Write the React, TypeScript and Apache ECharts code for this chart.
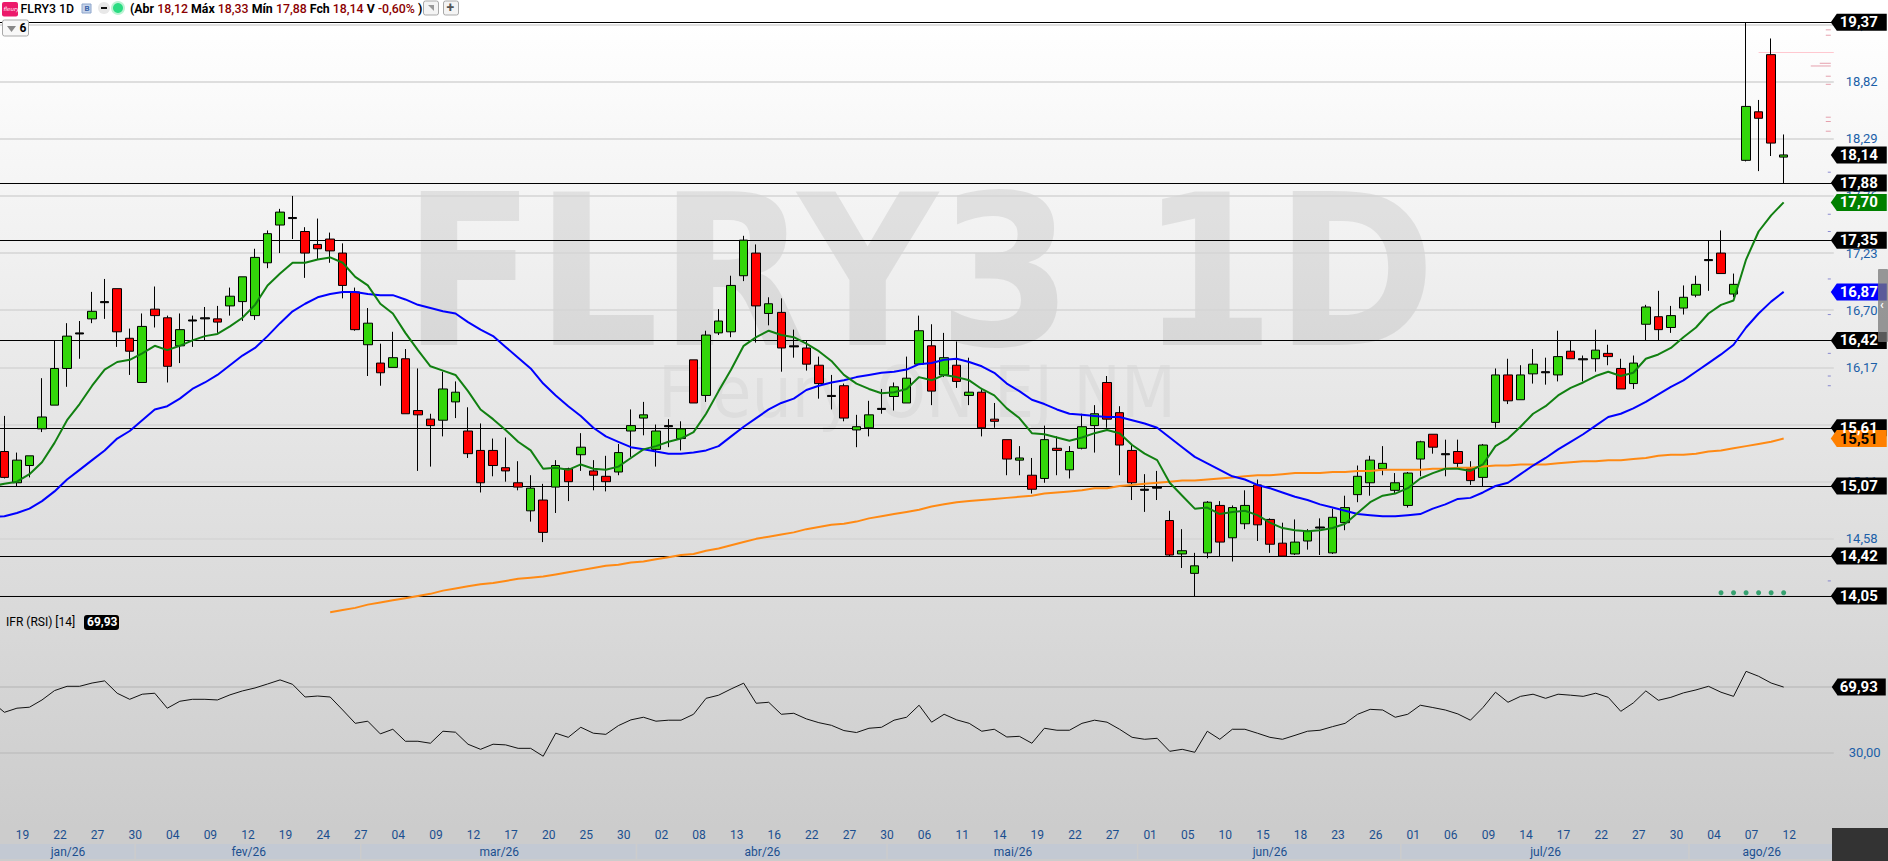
import React, { useEffect, useRef } from "react";
import * as echarts from "echarts";

const tickLabels = ["19","22","27","30","04","09","12","19","24","27","04","09","12","17","20","25","30","02","08","13","16","22","27","30","06","11","14","19","22","27","01","05","10","15","18","23","26","01","06","09","14","17","22","27","30","04","07","12"];
const monthNames = ["jan/26","fev/26","mar/26","abr/26","mai/26","jun/26","jul/26","ago/26"];
const monthBounds = [-1,10.5,28.5,50.5,70.5,90.5,111.5,134.5,146];
const priceTicks = [19.35,18.82,18.29,17.76,17.23,16.70,16.17,15.64,15.11,14.58,14.05];
const levels = [19.37,17.88,17.35,16.42,15.61,15.07,14.42,14.05];

const opens = [15.39,15.10,15.26,15.60,15.82,16.16,16.48,16.62,16.77,16.90,16.44,16.03,16.71,16.63,16.37,16.60,16.62,16.62,16.74,16.78,16.65,17.14,17.49,17.55,17.43,17.31,17.36,17.23,16.87,16.38,
16.21,16.17,16.25,15.77,15.69,15.68,15.85,15.58,15.40,15.40,15.24,15.10,14.84,14.94,15.06,15.23,15.36,15.21,15.16,15.20,
15.58,15.70,15.41,15.62,15.51,16.24,15.91,16.49,16.50,17.02,17.23,16.67,16.68,16.36,16.35,16.19,15.90,16.00,15.59,15.61,15.78,15.90,15.84,16.20,16.37,16.10,16.19,15.91,15.94,15.69,
15.50,15.31,15.17,15.14,15.42,15.22,15.42,15.63,16.03,15.75,15.40,15.03,15.05,14.75,14.44,14.26,14.45,14.89,14.59,14.72,15.08,
14.76,14.54,14.44,14.56,14.68,14.45,14.73,14.99,15.10,15.23,15.03,14.89,15.32,15.55,15.36,15.39,15.23,15.15,15.66,16.10,15.87,16.11,16.13,16.10,16.32,16.24,16.25,16.30,16.16,16.02,16.57,16.64,16.54,
16.72,16.84,17.16,17.23,16.85,18.09,18.54,19.07,18.12];
const closes = [15.15,15.31,15.35,15.71,16.16,16.46,16.49,16.69,16.78,16.50,16.32,16.55,16.65,16.18,16.52,16.61,16.63,16.59,16.83,17.01,17.19,17.41,17.61,17.56,17.23,17.27,17.25,16.93,16.52,16.58,
16.12,16.26,15.74,15.73,15.63,15.97,15.94,15.37,15.10,15.26,15.21,15.06,15.05,14.64,15.26,15.11,15.43,15.17,15.11,15.38,
15.63,15.73,15.58,15.63,15.60,15.84,16.47,16.60,16.93,17.35,16.74,16.76,16.35,16.37,16.20,16.02,15.91,15.70,15.62,15.73,15.79,15.99,16.07,16.51,15.95,16.26,16.04,15.94,15.61,15.67,
15.32,15.33,15.04,15.50,15.40,15.39,15.62,15.74,15.69,15.45,15.10,15.04,15.06,14.43,14.47,14.33,14.92,14.55,14.87,14.89,14.71,
14.53,14.42,14.55,14.65,14.69,14.78,14.87,15.16,15.31,15.28,15.10,15.19,15.48,15.43,15.37,15.28,15.12,15.45,16.10,15.86,16.10,16.20,16.12,16.27,16.25,16.25,16.33,16.27,15.97,16.21,16.73,16.52,16.65,
16.82,16.94,17.17,17.04,16.94,18.59,18.48,18.25,18.14];
const lows = [15.14,15.07,15.15,15.57,15.82,15.99,16.25,16.58,16.62,16.36,16.10,16.03,16.54,16.03,16.21,16.36,16.42,16.49,16.65,16.60,16.61,17.09,17.23,17.36,17.00,17.17,17.14,16.81,16.51,16.09,
16.00,16.17,15.74,15.21,15.25,15.53,15.70,15.33,15.01,15.16,15.11,15.03,14.74,14.55,14.82,14.93,15.21,15.03,15.02,15.17,
15.34,15.54,15.25,15.43,15.40,15.84,15.85,16.47,16.45,16.97,16.40,16.56,16.13,16.26,16.14,15.88,15.78,15.67,15.43,15.53,15.74,15.77,15.84,16.20,15.82,16.08,15.98,15.82,15.53,15.61,
15.17,15.17,15.00,15.10,15.17,15.14,15.41,15.38,15.61,15.17,14.94,14.83,14.94,14.42,14.31,14.05,14.40,14.42,14.37,14.67,14.56,
14.45,14.42,14.43,14.48,14.43,14.44,14.66,14.92,14.98,15.17,15.00,14.87,15.16,15.37,15.16,15.24,15.08,15.07,15.61,15.83,15.87,16.02,16.01,16.04,16.25,16.04,16.13,16.19,15.97,15.97,16.42,16.42,16.49,
16.66,16.82,16.88,17.04,16.82,18.08,17.99,18.13,17.88];
const highs = [15.72,15.38,15.35,16.07,16.42,16.58,16.60,16.87,16.99,16.90,16.53,16.67,16.92,16.65,16.67,16.65,16.73,16.74,16.91,17.01,17.27,17.44,17.64,17.76,17.47,17.55,17.42,17.32,16.91,16.72,
16.39,16.50,16.34,16.16,15.74,16.13,16.04,15.80,15.65,15.51,15.52,15.30,15.17,15.09,15.31,15.24,15.56,15.31,15.35,15.46,
15.78,15.85,15.64,15.69,15.67,16.24,16.51,16.71,17.02,17.39,17.31,16.82,16.81,16.52,16.42,16.27,16.10,16.02,15.73,15.86,15.97,16.03,16.27,16.65,16.57,16.49,16.41,16.26,15.98,15.84,
15.50,15.44,15.33,15.63,15.53,15.44,15.74,15.82,16.09,15.81,15.45,15.18,15.21,14.84,14.67,14.45,14.93,14.93,14.89,15.03,15.13,
14.77,14.73,14.76,14.67,14.77,14.86,14.98,15.26,15.35,15.44,15.19,15.20,15.49,15.55,15.50,15.50,15.30,15.46,16.16,16.25,16.19,16.34,16.26,16.51,16.42,16.28,16.52,16.38,16.25,16.28,16.75,16.88,16.74,
16.93,17.02,17.35,17.44,17.04,19.37,18.65,19.22,18.33];

const ma9 = [15.07,15.09,15.11,15.18,15.29,15.47,15.68,15.83,16.00,16.15,16.22,16.24,16.30,16.37,16.33,16.37,16.42,16.46,16.48,16.55,16.63,16.75,16.93,17.04,17.14,17.14,17.17,17.19,17.14,17.01,16.93,16.76,16.67,16.49,16.33,16.18,16.14,16.10,15.95,15.78,15.69,15.59,15.48,15.40,15.23,15.24,15.22,15.27,15.23,15.22,15.25,
15.33,15.41,15.44,15.48,15.51,15.57,15.74,15.95,16.15,16.37,16.45,16.51,16.47,16.45,16.39,16.32,16.23,16.10,16.02,15.97,15.93,15.94,15.97,16.08,16.05,16.10,16.08,16.05,15.97,15.91,15.79,15.70,15.56,15.55,15.52,15.49,15.52,15.56,15.59,15.56,15.45,15.37,15.31,15.10,14.98,14.86,14.87,14.81,14.83,14.84,14.80,
14.73,14.68,14.66,14.65,14.66,14.68,14.72,14.82,14.92,14.98,15.00,15.05,15.14,15.19,15.23,15.23,15.21,15.27,15.44,15.51,15.62,15.74,15.81,15.91,15.98,16.03,16.09,16.13,16.09,16.12,16.25,16.29,16.35,16.45,16.54,16.67,16.75,16.79,17.17,17.43,17.58,17.70];
const ma21 = [14.78,14.79,14.82,14.86,14.93,15.02,15.13,15.22,15.31,15.40,15.51,15.58,15.68,15.78,15.81,15.88,15.97,16.03,16.10,16.19,16.28,16.35,16.46,16.58,16.69,16.76,16.82,16.85,16.87,16.87,16.85,16.84,16.84,16.80,16.75,16.72,16.69,16.67,16.59,16.52,16.46,16.36,16.26,16.16,16.02,15.91,15.81,15.72,15.61,15.53,15.48,15.43,
15.41,15.39,15.37,15.37,15.38,15.40,15.44,15.53,15.62,15.70,15.78,15.84,15.88,15.96,16.00,16.03,16.05,16.08,16.10,16.12,16.13,16.15,16.20,16.21,16.24,16.25,16.22,16.18,16.12,16.02,15.95,15.87,15.83,15.78,15.74,15.73,15.72,15.71,15.71,15.68,15.65,15.61,15.52,15.43,15.34,15.28,15.22,15.16,15.13,15.08,
15.05,15.01,14.97,14.94,14.90,14.87,14.84,14.81,14.80,14.79,14.79,14.80,14.81,14.86,14.90,14.95,14.96,15.01,15.07,15.10,15.18,15.26,15.33,15.41,15.48,15.55,15.63,15.71,15.74,15.79,15.85,15.92,15.99,16.05,16.13,16.21,16.29,16.38,16.54,16.67,16.78,16.87];
const ma200 = [13.90,13.92,13.94,13.97,13.99,14.01,14.03,14.05,14.07,14.10,14.12,14.14,14.16,14.17,14.19,14.21,14.22,14.23,14.25,14.27,14.29,14.31,14.33,14.34,14.36,14.37,14.39,14.41,14.43,14.44,14.47,14.49,14.52,14.55,14.58,14.60,14.62,14.64,14.67,14.69,14.71,14.72,14.74,14.77,14.79,14.81,14.83,14.85,14.88,14.90,14.92,14.93,14.94,14.95,14.96,14.97,14.98,15.00,15.01,15.02,15.03,15.05,15.05,15.07,15.08,15.09,15.10,15.11,15.12,15.12,15.13,15.14,15.15,15.16,15.17,
15.17,15.18,15.19,15.19,15.19,15.20,15.20,15.21,15.21,15.22,15.22,15.22,15.22,15.23,15.23,15.24,15.24,15.25,15.26,15.26,15.27,15.27,15.27,15.28,15.29,15.30,15.30,15.31,15.31,15.32,15.33,15.35,15.36,15.36,15.37,15.39,15.40,15.42,15.44,15.46,15.48,15.51];
const rsi = [61,54.6,57.1,57.7,62.1,67.8,70.4,70.4,72.4,73.7,66.2,62.5,65.6,66.2,57.1,61.3,62.5,62.5,62.1,65.2,67.6,69.4,71.8,74.3,71.6,63.9,64.5,63.9,56.0,47.9,49.2,41.5,44.3,37.0,37.0,35.8,43.1,42.5,35.2,32.1,35.2,34.8,32.7,32.7,27.9,41.9,39.4,45.5,41.9,41.2,46.5,50.0,51.6,49.2,49.8,49.8,53.4,63.1,65.0,68.8,72.3,60.1,60.7,53.4,54.0,50.6,48.3,46.7,43.5,42.3,44.9,45.5,49.8,51.6,58.9,48.6,53.4,
50.0,47.9,43.1,44.3,39.6,40.0,35.8,44.9,43.7,43.7,47.9,49.8,48.6,44.3,39.4,38.2,38.8,30.9,32.1,30.3,43.1,38.2,44.3,44.3,41.9,39.4,38.2,40.6,43.1,43.7,45.9,47.9,53.4,56.4,56.0,51.6,53.4,58.9,57.5,56.0,53.6,49.8,57.5,66.8,60.7,64.3,65.6,63.1,65.6,65.0,64.3,66.2,63.7,55.2,60.3,67.6,61.9,63.7,66.4,68.2,70.4,66.8,64.3,79.5,76.5,72.4,69.93];
const dotBars = [137,138,139,140,141,142];
const dotValue = 14.08;
const pinkTicks = [19.30,19.25,18.87,18.795,18.49,18.45,18.36];
const pinkLongTicks = [18.99];
const pinkWideTicks = [18.965];
const blueTicks = [17.98,17.59,17.43,16.99,16.66,16.30,16.09,16.00,14.19];
const pinkLevel = 19.09;
const priceTags = [
  { v: 19.37, c: "#000", t: "#fff" }, { v: 18.14, c: "#000", t: "#fff" }, { v: 17.88, c: "#000", t: "#fff" },
  { v: 17.70, c: "#008000", t: "#fff" }, { v: 17.35, c: "#000", t: "#fff" }, { v: 16.87, c: "#0000ff", t: "#fff" },
  { v: 16.42, c: "#000", t: "#fff" }, { v: 15.61, c: "#000", t: "#fff" }, { v: 15.51, c: "#ff8000", t: "#000" },
  { v: 15.07, c: "#000", t: "#fff" }, { v: 14.42, c: "#000", t: "#fff" }, { v: 14.05, c: "#000", t: "#fff" },
];

const fmt = (v: number) => v.toFixed(2).replace(".", ",");
const FONT = "Roboto, 'Noto Sans', sans-serif";
const TAG = "path://M6 0L56 0L56 17L6 17L0 8.5Z";
const W = 1888, H = 861;
const STEP = 12.53, LEFT = -8.13, SLOTS = 148, LAST = SLOTS - 1;
const px = (y: number) => 19.37 - (y - 22.3) / 107.84;

export default function App() {
  const ref = useRef<HTMLDivElement>(null);
  useEffect(() => {
    const chart = echarts.init(ref.current!, undefined, { renderer: "svg", width: W, height: H });
    const slots: string[] = new Array(SLOTS).fill("");
    tickLabels.forEach((t, k) => { slots[2 + 3 * k] = t; });
    const candles: any[] = [["-", "-", "-", "-"]];
    opens.forEach((o, i) => {
      const value = [o, closes[i], lows[i], highs[i]];
      const doji = Math.abs(o - closes[i]) < 0.015;
      candles.push(doji ? { value, itemStyle: { color: "#000", color0: "#000", borderColor: "#000", borderColor0: "#000" } } : value);
    });
    const pad = (a: number[], n: number) => new Array(n).fill(null).concat(a);
    const tick = (vals: number[], w: number, color: string) => ({
      type: "scatter", xAxisIndex: 0, yAxisIndex: 0, silent: true, symbol: "rect", z: 1,
      symbolSize: [w, 1], symbolOffset: [-(w / 2) - 3, 0], itemStyle: { color }, data: vals.map((v) => [LAST, v]),
    });
    chart.setOption({
      animation: false,
      backgroundColor: new echarts.graphic.LinearGradient(0, 0, 0, 1, [
        { offset: 0, color: "#ffffff" }, { offset: 0.026, color: "#ffffff" }, { offset: 0.96, color: "#cccccc" }, { offset: 1, color: "#cccccc" },
      ]),
      textStyle: { fontFamily: FONT },
      grid: [
        { left: LEFT, top: 0, width: STEP * LAST, height: 615, outerBoundsMode: "none" },
        { left: LEFT, top: 620, width: STEP * LAST, height: 206, outerBoundsMode: "none" },
        { left: LEFT, top: 844, width: STEP * LAST, height: 15, outerBoundsMode: "none" },
      ],
      xAxis: [
        { type: "category", gridIndex: 0, data: slots, boundaryGap: false, show: false },
        { type: "category", gridIndex: 1, data: slots, boundaryGap: false, axisLine: { show: false }, axisTick: { show: false }, splitLine: { show: false },
          axisLabel: { interval: (_: number, v: string) => v !== "", color: "#1b4f8f", fontSize: 12, margin: 3, padding: [0, 0, 0, 11], fontFamily: FONT } },
        { type: "value", gridIndex: 2, min: -1, max: 146, show: false },
      ],
      yAxis: [
        { type: "value", gridIndex: 0, position: "right", min: px(615), max: px(0), axisLine: { show: false },
          axisTick: { show: false, customValues: priceTicks },
          axisLabel: { customValues: priceTicks, formatter: fmt, color: "#1b5fa8", fontSize: 13, margin: 12, fontFamily: FONT },
          splitLine: { show: true, lineStyle: { color: "#d4d4d4", width: 1.5 } } },
        { type: "value", gridIndex: 1, position: "right", min: -14.5, max: 110.7, axisLine: { show: false },
          axisTick: { show: false, customValues: [30, 70] },
          axisLabel: { customValues: [30], formatter: fmt, color: "#1b5fa8", fontSize: 13, margin: 15, fontFamily: FONT },
          splitLine: { show: true, lineStyle: { color: "#c4c4c4", width: 2 } } },
        { type: "value", gridIndex: 2, min: 0, max: 1, show: false },
      ],
      series: [
        tick(pinkTicks, 5, "#e08a9a"), tick(pinkLongTicks, 11, "#e08a9a"), tick(pinkWideTicks, 20, "#e08a9a"), tick(blueTicks, 3, "#6f6fc8"),
        {
          type: "candlestick", xAxisIndex: 0, yAxisIndex: 0, barWidth: 9, data: candles, silent: true, z: 3,
          itemStyle: { color: "#33d60a", color0: "#ff0000", borderColor: "#000", borderColor0: "#000", borderWidth: 1 },
          markLine: { silent: true, symbol: "none", animation: false, label: { show: false }, z: 2,
            lineStyle: { color: "#000", type: "solid", width: 1.2 },
            data: [
              ...levels.map((v) => ({ yAxis: v })),
              [{ coord: [141, pinkLevel], lineStyle: { color: "#ffc8d0", width: 1.2, type: "solid" } }, { coord: [LAST, pinkLevel] }],
            ] },
        },
        { type: "line", xAxisIndex: 0, yAxisIndex: 0, data: pad(ma200, 27), showSymbol: false, symbol: "none", silent: true, z: 5, lineStyle: { color: "#ff8a14", width: 2 } },
        { type: "line", xAxisIndex: 0, yAxisIndex: 0, data: ma21, showSymbol: false, symbol: "none", silent: true, z: 5, lineStyle: { color: "#0000ff", width: 2 } },
        { type: "line", xAxisIndex: 0, yAxisIndex: 0, data: ma9, showSymbol: false, symbol: "none", silent: true, z: 5, lineStyle: { color: "#118011", width: 2 } },
        { type: "scatter", xAxisIndex: 0, yAxisIndex: 0, symbol: "circle", symbolSize: 5, silent: true, z: 5, itemStyle: { color: "#0d9455" }, data: dotBars.map((i) => [i + 1, dotValue]) },
        {
          type: "line", xAxisIndex: 0, yAxisIndex: 0, data: [], silent: true, z: 8,
          markPoint: { silent: true, animation: false, symbol: TAG, symbolSize: [56, 17], symbolOffset: [25, 0],
            data: priceTags.map((p) => ({ coord: [LAST, p.v], itemStyle: { color: p.c }, value: p.v,
              label: { show: true, position: "inside", formatter: fmt(p.v), color: p.t, fontWeight: 700, fontSize: 15, fontFamily: FONT } })) },
        },
        {
          type: "line", xAxisIndex: 1, yAxisIndex: 1, data: rsi, showSymbol: false, symbol: "none", silent: true, z: 5, lineStyle: { color: "#111", width: 1 },
          markPoint: { silent: true, animation: false, symbol: TAG, symbolSize: [54, 17], symbolOffset: [25, 0],
            data: [{ coord: [LAST, 69.93], itemStyle: { color: "#000" }, label: { show: true, position: "inside", formatter: fmt(69.93), color: "#fff", fontWeight: 700, fontSize: 15, fontFamily: FONT } }] },
        },
        {
          type: "custom", xAxisIndex: 2, yAxisIndex: 2, silent: true, clip: false,
          encode: { x: [0, 1] },
          data: monthNames.map((_, i) => [monthBounds[i], monthBounds[i + 1]]),
          renderItem: (params: any, api: any) => {
            const a = api.coord([api.value(0), 1]);
            const b = api.coord([api.value(1), 0]);
            const x0 = Math.max(a[0], 0);
            return {
              type: "group",
              children: [
                { type: "rect", shape: { x: x0, y: a[1], width: b[0] - x0 - 1.5, height: b[1] - a[1] }, style: { fill: "#c3c9d3" } },
                { type: "text", style: { x: (x0 + b[0]) / 2, y: (a[1] + b[1]) / 2, text: monthNames[params.dataIndex], fill: "#1b4f8f", align: "center", verticalAlign: "middle", font: `12px ${FONT}` } },
              ],
            };
          },
        },
      ],
      graphic: [
        { type: "text", z: -1, x: 403, y: 272, scaleX: 0.923, style: { text: "FLRY3 1D", fill: "rgba(0,0,0,0.08)", font: "bold 210px 'DejaVu Sans'", verticalAlign: "middle" } },
        { type: "text", z: -1, x: 658, y: 392, scaleX: 0.897, style: { text: "Fleury ON EJ NM", fill: "rgba(0,0,0,0.04)", font: "71px 'DejaVu Sans'", verticalAlign: "middle" } },
        { type: "rect", z: 20, shape: { x: 1832, y: 828, width: 56, height: 33 }, style: { fill: "#333333" } },
        { type: "rect", z: 20, shape: { x: 1878, y: 269, width: 10, height: 73, r: 1 }, style: { fill: "rgba(120,120,120,0.75)" } },
        { type: "text", z: 21, x: 1880, y: 299, style: { text: "‹", fill: "#fff", font: "bold 12px Roboto" } },
        // header
        { type: "rect", z: 20, shape: { x: 2, y: 2, width: 16, height: 14.5, r: 2 }, style: { fill: "#ec1a6b" } },
        { type: "text", z: 21, x: 3.5, y: 6, style: { text: "fleury", fill: "#fff", font: "italic 5.5px 'DejaVu Sans'" } },
        { type: "text", z: 21, x: 20.5, y: 1.5, scaleX: 0.95, style: { text: "FLRY3 1D", fill: "#000", font: `500 13px ${FONT}` } },
        { type: "rect", z: 20, shape: { x: 82, y: 4, width: 9, height: 9 }, style: { fill: "#c6d4ea", stroke: "#8ea6cc" } },
        { type: "text", z: 21, x: 84.5, y: 4.5, style: { text: "B", fill: "#3a63a8", font: "bold 8px Roboto" } },
        { type: "circle", z: 20, shape: { cx: 104, cy: 8, r: 6 }, style: { fill: "#e8e8e8" } },
        { type: "rect", z: 21, shape: { x: 101, y: 7, width: 6, height: 2 }, style: { fill: "#111" } },
        { type: "circle", z: 20, shape: { cx: 118, cy: 8, r: 7 }, style: { fill: "#bdf3d4" } },
        { type: "circle", z: 21, shape: { cx: 118, cy: 8, r: 5 }, style: { fill: "#2bdc82" } },
        { type: "text", z: 21, x: 130, y: 1.5, scaleX: 0.95, style: {
            text: "{b|(Abr} {r|18,12} {b|Máx} {r|18,33} {b|Mín} {r|17,88} {b|Fch} {r|18,14} {b|V} {r|-0,60%} {b|)}",
            font: `13px ${FONT}`,
            rich: { b: { fill: "#000", font: `bold 13px ${FONT}` }, r: { fill: "#8b0000", font: `500 13px ${FONT}` } },
          } },
        { type: "rect", z: 20, shape: { x: 423.5, y: 1, width: 15, height: 14, r: 2 }, style: { fill: "#f4f4f4", stroke: "#a9a9a9" } },
        { type: "polygon", z: 21, shape: { points: [[428, 5], [434, 5], [434, 11]] }, style: { fill: "#999" } },
        { type: "rect", z: 20, shape: { x: 443.5, y: 1, width: 15, height: 14, r: 2 }, style: { fill: "#f4f4f4", stroke: "#a9a9a9" } },
        { type: "text", z: 21, x: 446.5, y: 0, style: { text: "+", fill: "#555", font: "bold 14px Roboto" } },
        { type: "rect", z: 20, shape: { x: 2.5, y: 20, width: 26, height: 16, r: 2 }, style: { fill: "#f8f8f8", stroke: "#a9a9a9" } },
        { type: "polygon", z: 21, shape: { points: [[7, 26], [16, 26], [11.5, 32]] }, style: { fill: "#888" } },
        { type: "text", z: 21, x: 19.5, y: 21.5, style: { text: "6", fill: "#000", font: `bold 12px ${FONT}` } },
        // RSI caption
        { type: "text", z: 21, x: 6, y: 615.5, style: { text: "IFR (RSI) [14]", fill: "#000", font: `12px ${FONT}` } },
        { type: "rect", z: 20, shape: { x: 84, y: 615, width: 35, height: 15, r: 3 }, style: { fill: "#000" } },
        { type: "text", z: 21, x: 87, y: 616, style: { text: "69,93", fill: "#fff", font: `bold 12px ${FONT}` } },
      ],
    });
    return () => chart.dispose();
  }, []);
  return <div ref={ref} style={{ position: "fixed", left: 0, top: 0, width: W, height: H }} />;
}
